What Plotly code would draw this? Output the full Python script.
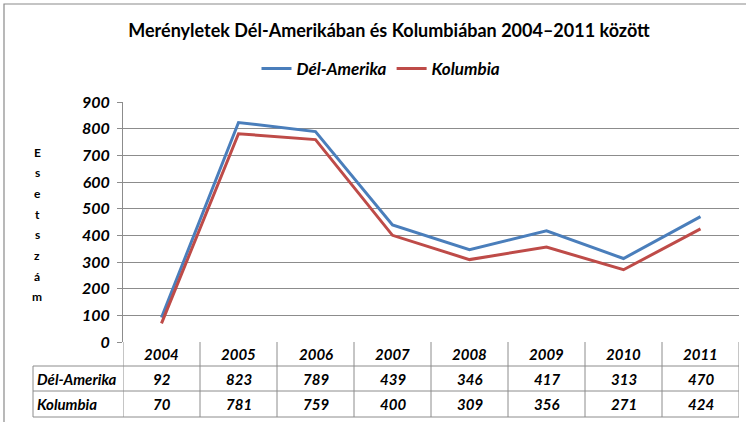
import plotly.graph_objects as go

years = ['2004', '2005', '2006', '2007', '2008', '2009', '2010', '2011']
del_amerika = [92, 823, 789, 439, 346, 417, 313, 470]
kolumbia = [70, 781, 759, 400, 309, 356, 271, 424]
series_names = ['Dél-Amerika', 'Kolumbia']
series_colors = ['#4A7EBB', '#BE4B48']
y_ticks = [0, 100, 200, 300, 400, 500, 600, 700, 800, 900]
title_text = 'Merényletek Dél-Amerikában és Kolumbiában 2004–2011 között'
y_title = 'Esetszám'

FONT = 'Lato'
GRID = '#8c8c8c'
W, H = 746, 422
ML, MR, MT, MB = 123, 7, 102, 80
PH = H - MT - MB
PW = W - ML - MR


def py(pix):
    """pixel y (from top) -> paper y"""
    return (H - MB - pix) / PH


def px(pix):
    return (pix - ML) / PW


BI = dict(family=FONT, size=15, color='black', weight='bold', style='italic')

fig = go.Figure()
for name, vals, col in zip(series_names, [del_amerika, kolumbia], series_colors):
    fig.add_trace(go.Scatter(x=years, y=vals, mode='lines', name=name,
                             line=dict(color=col, width=3)))

shapes = []
# outer chart border
shapes.append(dict(type='rect', xref='paper', yref='paper', x0=px(4), x1=px(760),
                   y0=py(440), y1=py(4), line=dict(color='#8a8a8a', width=1.2)))
# table horizontal lines
for yy in [366, 391, 417]:
    shapes.append(dict(type='line', xref='paper', yref='paper', x0=px(33), x1=1,
                       y0=py(yy), y1=py(yy), line=dict(color=GRID, width=1)))
# left border of label column
shapes.append(dict(type='line', xref='paper', yref='paper', x0=px(33), x1=px(33),
                   y0=py(366), y1=py(417), line=dict(color=GRID, width=1)))
# vertical lines at category boundaries in table
for i in range(len(years) + 1):
    shapes.append(dict(type='line', xref='x', yref='paper', x0=i - 0.5, x1=i - 0.5,
                       y0=0, y1=py(417), line=dict(color=GRID, width=1)))

annotations = []
row_y = [354, 379, 404]
for i, yr in enumerate(years):
    annotations.append(dict(x=i, y=py(row_y[0]), xref='x', yref='paper', text=yr,
                            showarrow=False, yanchor='middle', font=BI))
    for r, vals in enumerate([del_amerika, kolumbia]):
        annotations.append(dict(x=i, y=py(row_y[r + 1]), xref='x', yref='paper', text=str(vals[i]),
                                showarrow=False, yanchor='middle', font=BI))
for r, name in enumerate(series_names):
    annotations.append(dict(x=px(35), y=py(row_y[r + 1]), xref='paper', yref='paper', text=name,
                            showarrow=False, xanchor='left', yanchor='middle', font=BI))
# vertical stacked y title
for k, ch in enumerate(y_title):
    annotations.append(dict(x=px(37), y=py(152 + k * 20.7), xref='paper', yref='paper', text=ch,
                            showarrow=False, xanchor='center', yanchor='middle',
                            font=dict(family=FONT, size=12, color='black', weight='bold')))

fig.update_layout(
    width=W, height=H,
    margin=dict(l=ML, r=MR, t=MT, b=MB, autoexpand=False),
    paper_bgcolor='white', plot_bgcolor='white',
    title=dict(text=title_text, x=px(389), xanchor='center', xref='paper',
               y=1 - 31 / H, yanchor='middle',
               font=dict(family=FONT, size=18, color='black', weight='bold')),
    legend=dict(orientation='h', x=px(381), xanchor='center', y=py(69), yanchor='middle',
                font=dict(family=FONT, size=17, color='black', weight='bold', style='italic'),
                itemwidth=30, bgcolor='rgba(0,0,0,0)'),
    xaxis=dict(type='category', range=[-0.5, len(years) - 0.5], showticklabels=False,
               showgrid=False, zeroline=False, showline=False, ticks='', automargin=False),
    yaxis=dict(range=[0, 900], tickvals=y_ticks, showgrid=True, gridcolor=GRID, gridwidth=1,
               showline=True, linecolor=GRID, linewidth=1, ticks='outside', ticklen=5,
               tickcolor=GRID, zeroline=False, automargin=False, ticklabelstandoff=4,
               tickfont=dict(family=FONT, size=16, color='black', weight='bold', style='italic')),
    shapes=shapes, annotations=annotations,
    showlegend=True,
)

fig.write_html('out.html', config={'displayModeBar': False},
               post_script="document.body.style.margin='0';document.body.style.overflow='hidden';")
